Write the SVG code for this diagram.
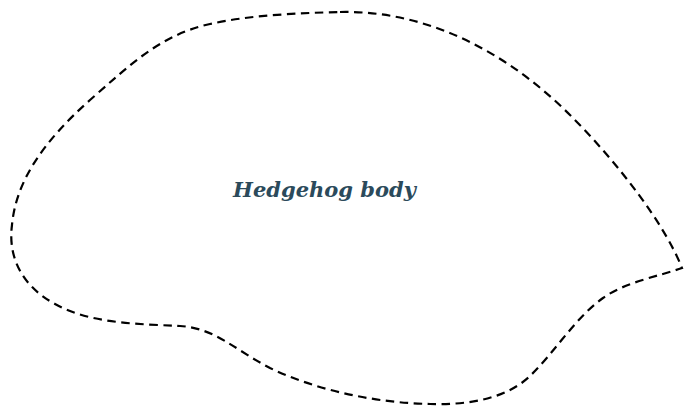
<svg xmlns="http://www.w3.org/2000/svg" width="684" height="406" viewBox="0 0 684 406">
<style>
.outline{fill:none;stroke:#000;stroke-width:2.2;stroke-dasharray:8.5 5.5;}
.label{font-family:"DejaVu Serif","Liberation Serif",serif;font-weight:bold;font-style:italic;font-size:21px;fill:#2b4a5b;}
</style>
<rect width="684" height="406" fill="#fff"/>
<g id="body">
<path class="outline" d="M 340 12 C 430 10, 510 55, 570 115 C 620 165, 665 225, 682 268 C 660 276, 625 282, 603 298 C 575 318, 555 352, 530 376 C 505 400, 465 405, 430 404 C 380 403, 320 392, 270 368 C 235 350, 215 328, 180 326 C 140 324, 90 324, 55 304 C 20 285, 8 255, 12 225 C 16 180, 45 140, 90 100 C 130 65, 160 35, 210 24 C 250 15, 300 13, 340 12 Z"/>
<text class="label" x="324.5" y="197" text-anchor="middle">Hedgehog body</text>
</g>
</svg>
